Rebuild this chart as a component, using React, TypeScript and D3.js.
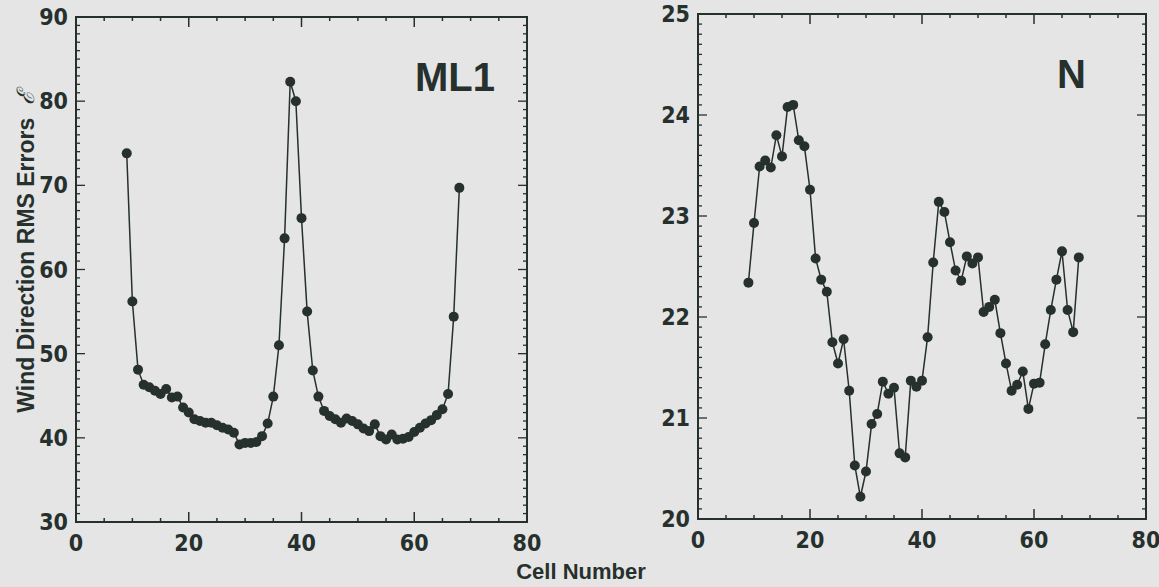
import React from 'react';
import * as d3 from 'd3';

// cell numbers shared by both panels
const cells: number[] = d3.range(9, 69);

// ML1 panel, wind direction RMS errors (deg)
const ml1Values: number[] = [
    73.8, 56.2, 48.1, 46.3, 46.0, 45.6, 45.2, 45.8, 44.8, 44.9,
    43.6, 43.0, 42.2, 42.0, 41.8, 41.8, 41.5, 41.2, 41.0, 40.6,
    39.2, 39.4, 39.4, 39.5, 40.2, 41.7, 44.9, 51.0, 63.7, 82.3,
    80.0, 66.1, 55.0, 48.0, 44.9, 43.2, 42.6, 42.2, 41.8, 42.3,
    42.0, 41.6, 41.1, 40.8, 41.6, 40.2, 39.8, 40.4, 39.8, 39.9,
    40.1, 40.7, 41.2, 41.7, 42.1, 42.7, 43.4, 45.2, 54.4, 69.7
];

// N panel
const nValues: number[] = [
    22.34, 22.93, 23.49, 23.55, 23.48, 23.80, 23.59, 24.08, 24.10, 23.75,
    23.69, 23.26, 22.58, 22.37, 22.25, 21.75, 21.54, 21.78, 21.27, 20.53,
    20.22, 20.47, 20.94, 21.04, 21.36, 21.24, 21.30, 20.65, 20.61, 21.37,
    21.31, 21.37, 21.80, 22.54, 23.14, 23.04, 22.74, 22.46, 22.36, 22.60,
    22.53, 22.59, 22.05, 22.10, 22.17, 21.84, 21.54, 21.27, 21.33, 21.46,
    21.09, 21.34, 21.35, 21.73, 22.07, 22.37, 22.65, 22.07, 21.85, 22.59
];

const xTickLabels: number[] = [0, 20, 40, 60, 80];
const ml1TickLabels: number[] = [30, 40, 50, 60, 70, 80, 90];
const nTickLabels: number[] = [20, 21, 22, 23, 24, 25];

const INK = '#26302d';
const tickFont = "'Liberation Sans Narrow', 'DejaVu Sans Condensed', sans-serif";
const labelFont = "'Liberation Sans', Arial, sans-serif";

interface PanelProps {
    left: number,
    right: number,
    top: number,
    bottom: number,
    values: number[],
    yDomain: [number, number],
    yLabels: number[],
    yMinorCount: number,
    title: string,
    titleInset: number
}

function Panel(props: PanelProps) {
    const { left, right, top, bottom, values, yDomain, yLabels, yMinorCount, title, titleInset } = props;
    const x = d3.scaleLinear().domain([0, 80]).range([left, right]);
    const y = d3.scaleLinear().domain(yDomain).range([bottom, top]);

    const line = d3.line<number>()
        .x((d, i) => x(cells[i]))
        .y(d => y(d));

    const xMinor = x.ticks(16);
    const yMinor = y.ticks(yMinorCount);
    const isMajorX = (t: number) => xTickLabels.indexOf(t) >= 0;
    const isMajorY = (t: number) => yLabels.some(l => Math.abs(l - t) < 1e-6);

    return (
        <g>
            <rect x={left} y={top} width={right - left} height={bottom - top}
                fill="none" stroke={INK} strokeWidth={2} />
            {xMinor.map((t, i) => {
                const len = isMajorX(t) ? 10 : 4;
                return (
                    <g key={'xt' + i}>
                        <line x1={x(t)} x2={x(t)} y1={bottom} y2={bottom - len} stroke={INK} strokeWidth={1.5} />
                        <line x1={x(t)} x2={x(t)} y1={top} y2={top + len} stroke={INK} strokeWidth={1.5} />
                    </g>
                );
            })}
            {yMinor.map((t, i) => {
                const len = isMajorY(t) ? 9 : 4;
                return (
                    <g key={'yt' + i}>
                        <line x1={left} x2={left + len} y1={y(t)} y2={y(t)} stroke={INK} strokeWidth={1.3} />
                        <line x1={right} x2={right - len} y1={y(t)} y2={y(t)} stroke={INK} strokeWidth={1.3} />
                    </g>
                );
            })}
            {xTickLabels.map(t => (
                <text key={'xl' + t} x={x(t)} y={bottom + 29} textAnchor="middle"
                    fontFamily={tickFont} fontWeight="bold" fontSize={23} fill={INK}>{t}</text>
            ))}
            {yLabels.map(t => (
                <text key={'yl' + t} x={left - 8} y={y(t) + 8} textAnchor="end"
                    fontFamily={tickFont} fontWeight="bold" fontSize={23} fill={INK}>{t}</text>
            ))}
            <path d={line(values) || ''} fill="none" stroke={INK} strokeWidth={1.5} />
            {values.map((v, i) => (
                <circle key={'p' + i} cx={x(cells[i])} cy={y(v)} r={5} fill={INK} />
            ))}
            <text x={right - titleInset} y={top + 74} textAnchor="end" fontFamily={labelFont}
                fontWeight="bold" fontSize={40} fill={INK}>{title}</text>
        </g>
    );
}

export default function App() {
    return (
        <svg width={1159} height={587} style={{ position: 'absolute', left: 0, top: 0 }}>
            <rect x={0} y={0} width={1159} height={587} fill="#e5e5e5" />
            <Panel left={76} right={527} top={17} bottom={522} values={ml1Values}
                yDomain={[30, 90]} yLabels={ml1TickLabels} yMinorCount={60} title="ML1" titleInset={32} />
            <Panel left={698} right={1146} top={14} bottom={519} values={nValues}
                yDomain={[20, 25]} yLabels={nTickLabels} yMinorCount={50} title="N" titleInset={60} />
            <text transform="translate(34,252) rotate(-90)" textAnchor="middle"
                fontFamily={labelFont} fontWeight="bold" fontSize={23} fill={INK}>
                Wind Direction RMS Errors <tspan dx={6} fontStyle="italic" fontWeight="normal" fontSize={24}>ℰ</tspan>
            </text>
            <text x={581} y={579} textAnchor="middle" fontFamily={labelFont}
                fontWeight="bold" fontSize={22} fill={INK}>Cell Number</text>
        </svg>
    );
}
